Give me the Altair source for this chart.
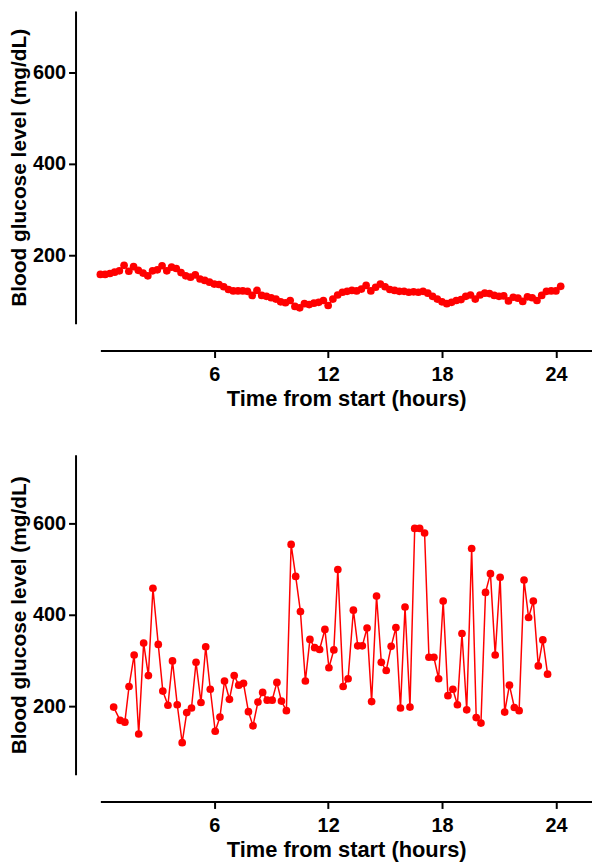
import altair as alt
import pandas as pd

# ---- Top panel (dense CGM trace) ----
top_hours = [0.0, 0.25, 0.5, 0.75, 1.0, 1.25, 1.5, 1.75, 2.0, 2.25, 2.5, 2.75, 3.0, 3.25, 3.5, 3.75,
             4.0, 4.25, 4.5, 4.75, 5.0, 5.25, 5.5, 5.75, 6.0, 6.25, 6.5, 6.75, 7.0, 7.25, 7.5, 7.75,
             8.0, 8.25, 8.5, 8.75, 9.0, 9.25, 9.5, 9.75, 10.0, 10.25, 10.5, 10.75, 11.0, 11.25, 11.5, 11.75,
             12.0, 12.25, 12.5, 12.75, 13.0, 13.25, 13.5, 13.75, 14.0, 14.25, 14.5, 14.75, 15.0, 15.25, 15.5, 15.75,
             16.0, 16.25, 16.5, 16.75, 17.0, 17.25, 17.5, 17.75, 18.0, 18.25, 18.5, 18.75, 19.0, 19.25, 19.5, 19.75,
             20.0, 20.25, 20.5, 20.75, 21.0, 21.25, 21.5, 21.75, 22.0, 22.25, 22.5, 22.75, 23.0, 23.25, 23.5, 23.75,
             24.0, 24.25]
top_glucose = [158, 158, 160, 163, 166, 178, 165, 175, 167, 161, 155, 166, 168, 177, 166, 174,
               171, 162, 155, 152, 157, 148, 145, 141, 137, 136, 131, 125, 122, 122, 122, 121,
               112, 123, 112, 110, 107, 104, 98, 96, 101, 88, 85, 94, 92, 95, 97, 101,
               90, 104, 113, 119, 121, 123, 122, 126, 134, 122, 130, 137, 131, 125, 123, 121,
               121, 119, 120, 119, 121, 117, 110, 104, 98, 94, 97, 101, 103, 110, 113, 104,
               113, 117, 116, 112, 110, 111, 100, 108, 106, 99, 109, 107, 101, 112, 121, 122,
               122, 132]

# ---- Bottom panel (erratic trace) ----
bottom_hours = [0.70, 1.04, 1.29, 1.51, 1.78, 2.02, 2.28, 2.53, 2.77, 3.05,
                3.29, 3.56, 3.80, 4.05, 4.31, 4.55, 4.80, 5.04, 5.30, 5.55,
                5.79, 6.05, 6.30, 6.54, 6.80, 7.05, 7.29, 7.54, 7.80, 8.04,
                8.30, 8.55, 8.79, 9.05, 9.30, 9.54, 9.80, 10.05, 10.29, 10.54,
                10.80, 11.04, 11.29, 11.55, 11.83, 12.04, 12.30, 12.51, 12.79, 13.05,
                13.33, 13.56, 13.80, 14.05, 14.29, 14.55, 14.80, 15.06, 15.32, 15.57,
                15.81, 16.05, 16.31, 16.56, 16.82, 17.08, 17.31, 17.57, 17.82, 18.06,
                18.31, 18.57, 18.81, 19.05, 19.30, 19.56, 19.80, 20.05, 20.29, 20.55,
                20.80, 21.06, 21.30, 21.55, 21.81, 22.06, 22.32, 22.56, 22.81, 23.07,
                23.31, 23.56]
bottom_glucose = [198, 169, 165, 243, 312, 139, 338, 267, 458, 335,
                  233, 202, 299, 203, 120, 186, 196, 296, 208, 330,
                  237, 145, 176, 255, 215, 267, 246, 250, 188, 157,
                  209, 230, 213, 213, 252, 211, 190, 554, 484, 407,
                  255, 346, 328, 324, 368, 284, 323, 499, 243, 260,
                  410, 332, 332, 371, 210, 441, 296, 278, 331, 372,
                  196, 417, 198, 589, 589, 579, 307, 307, 260, 430,
                  223, 237, 203, 359, 192, 545, 175, 163, 449, 490,
                  312, 482, 187, 246, 197, 190, 476, 394, 430, 288,
                  345, 270]

x_ticks = [6, 12, 18, 24]
y_ticks = [200, 400, 600]
x_title = "Time from start (hours)"
y_title = "Blood glucose level (mg/dL)"

FONT = "Liberation Sans"


def panel(hours, glucose, ymax, height):
    df = pd.DataFrame({"hours": hours, "glucose": glucose})
    return alt.Chart(df).mark_line(
        color="#FF0000", strokeWidth=1.5,
        point=alt.OverlayMarkDef(color="#FF0000", filled=True, size=60, opacity=1),
    ).encode(
        x=alt.X("hours:Q", title=x_title,
                scale=alt.Scale(domain=[0, 25.9], nice=False, zero=False),
                axis=alt.Axis(values=x_ticks, offset=27, labelPadding=7, titlePadding=4)),
        y=alt.Y("glucose:Q", title=y_title,
                scale=alt.Scale(domain=[50, ymax], nice=False, zero=False),
                axis=alt.Axis(values=y_ticks, offset=25, labelPadding=3, titlePadding=3)),
    ).properties(width=495, height=height)


top = panel(top_hours, top_glucose, 735, 315)
bottom = panel(bottom_hours, bottom_glucose, 750, 322)

chart = alt.vconcat(top, bottom, spacing=46).properties(
    padding={"left": 0, "top": 0, "right": 0, "bottom": 0}
).configure_view(stroke=None).configure_axis(
    grid=False,
    domainColor="#000000", domainWidth=2,
    tickColor="#000000", tickWidth=2, tickSize=7,
    labelFont=FONT, labelFontSize=20, labelFontWeight="bold", labelColor="#000000",
    titleFont=FONT, titleFontWeight="bold", titleColor="#000000",
).configure_axisX(titleFontSize=22).configure_axisY(titleFontSize=21)

chart.save("out.html", embed_options={"renderer": "svg", "actions": False})
